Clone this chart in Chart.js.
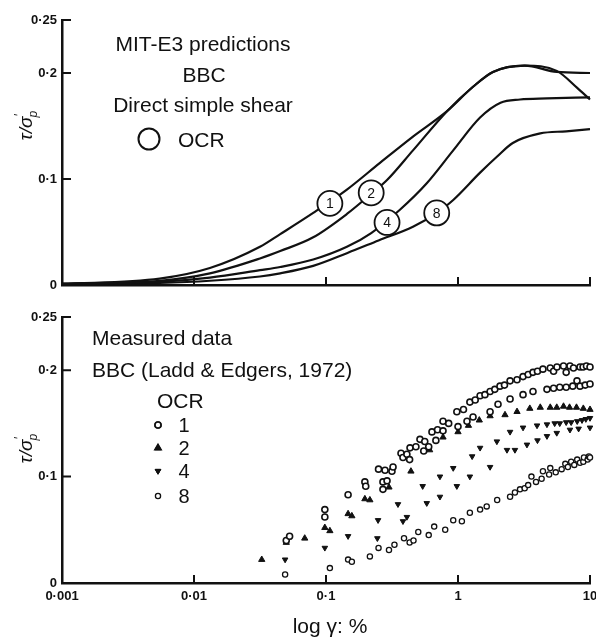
<!DOCTYPE html>
<html>
<head>
<meta charset="utf-8">
<title>MIT-E3 predictions vs measured data - BBC direct simple shear</title>
<script src="https://cdn.jsdelivr.net/npm/chart.js@4.4.1/dist/chart.umd.min.js"></script>
<style>
body { margin: 0; background: #fff; }
#wrap { position: relative; width: 596px; height: 637px; }
canvas { position: absolute; left: 0; }
#topChart { top: 0; }
#bottomChart { top: 300px; }
</style>
</head>
<body>
<div id="wrap">
  <canvas id="topChart" width="596" height="300"></canvas>
  <canvas id="bottomChart" width="596" height="337"></canvas>
</div>

<script>
// axis ticks (shared log strain axis, stress ratio axis)
var xTicks = [0.001, 0.01, 0.1, 1, 10];
var xTickLabels = ['0·001', '0·01', '0·1', '1', '10'];
var yTicks = [0, 0.1, 0.2, 0.25];
var yTickLabels = ['0', '0·1', '0·2', '0·25'];

// MIT-E3 predicted curves, one per OCR
var curveNames = ['1', '2', '4', '8'];
var curve1X = [0.001, 0.0055, 0.0132, 0.0316, 0.045, 0.08, 0.144, 0.255, 0.456, 0.826, 1.3, 1.84, 3.2, 5.6, 8.0, 10];
var curve1Y = [0.001, 0.006, 0.016, 0.036, 0.048, 0.068, 0.090, 0.115, 0.140, 0.164, 0.187, 0.201, 0.207, 0.202, 0.186, 0.175];
var curve2X = [0.001, 0.0055, 0.0132, 0.0316, 0.045, 0.08, 0.144, 0.22, 0.29, 0.456, 0.826, 1.3, 1.84, 3.2, 5.6, 10];
var curve2Y = [0.001, 0.004, 0.011, 0.025, 0.032, 0.045, 0.067, 0.086, 0.099, 0.127, 0.164, 0.187, 0.201, 0.207, 0.201, 0.200];
var curve4X = [0.001, 0.0055, 0.0132, 0.0316, 0.045, 0.08, 0.144, 0.22, 0.363, 0.58, 0.92, 1.47, 2.1, 2.95, 4.7, 10];
var curve4Y = [0.001, 0.003, 0.007, 0.014, 0.017, 0.024, 0.036, 0.049, 0.071, 0.096, 0.127, 0.158, 0.172, 0.175, 0.176, 0.177];
var curve8X = [0.001, 0.0055, 0.0132, 0.0316, 0.045, 0.08, 0.144, 0.25, 0.456, 0.693, 0.916, 1.47, 1.97, 2.6, 4.2, 6.6, 10];
var curve8Y = [0.001, 0.002, 0.004, 0.008, 0.011, 0.018, 0.030, 0.042, 0.055, 0.068, 0.080, 0.106, 0.121, 0.134, 0.143, 0.145, 0.147];
// where the circled OCR numbers sit on the curves
var curveLabelX = [0.107, 0.22, 0.29, 0.69];
var curveLabelY = [0.077, 0.087, 0.059, 0.068];

// measured data, Ladd & Edgers 1972
var ocr1X = [0.05, 0.053, 0.098, 0.098, 0.147, 0.197, 0.2, 0.25, 0.28, 0.316, 0.322, 0.37, 0.383, 0.41, 0.433, 0.48, 0.515, 0.56, 0.635, 0.70, 0.77, 0.85, 0.98, 1.1, 1.23, 1.35, 1.47, 1.6, 1.75, 1.9, 2.08, 2.25, 2.48, 2.8, 3.11, 3.4, 3.7, 4.0, 4.4, 5.0, 5.3, 5.62, 6.3, 6.6, 7.05, 7.5, 7.97, 8.4, 8.86, 9.4, 10,
             0.27, 0.27, 0.29, 0.43, 0.55, 0.6, 0.68, 0.77, 1.0, 1.17, 1.3, 1.75, 2.01, 2.48, 3.11, 3.7, 4.72, 5.3, 5.9, 6.6, 7.4, 8.4, 9.2, 10];
var ocr1Y = [0.040, 0.044, 0.069, 0.062, 0.083, 0.095, 0.091, 0.107, 0.106, 0.105, 0.109, 0.122, 0.118, 0.121, 0.127, 0.128, 0.135, 0.133, 0.142, 0.144, 0.152, 0.150, 0.161, 0.163, 0.170, 0.172, 0.176, 0.177, 0.180, 0.182, 0.185, 0.186, 0.190, 0.191, 0.194, 0.196, 0.198, 0.199, 0.201, 0.202, 0.199, 0.203, 0.204, 0.198, 0.204, 0.202, 0.190, 0.203, 0.203, 0.204, 0.203,
             0.088, 0.095, 0.096, 0.116, 0.124, 0.128, 0.134, 0.143, 0.147, 0.152, 0.156, 0.161, 0.168, 0.173, 0.177, 0.180, 0.182, 0.183, 0.184, 0.184, 0.185, 0.185, 0.186, 0.187];
var ocr2X = [0.0326, 0.05, 0.052, 0.069, 0.098, 0.107, 0.147, 0.157, 0.197, 0.215, 0.30, 0.44, 0.61, 0.77, 1.0, 1.2, 1.45, 1.75, 2.27, 2.8, 3.5, 4.2, 5.0, 5.6, 6.3, 7.0, 7.9, 8.9, 10];
var ocr2Y = [0.022, 0.038, 0.043, 0.042, 0.052, 0.049, 0.065, 0.063, 0.079, 0.078, 0.090, 0.105, 0.125, 0.137, 0.142, 0.148, 0.153, 0.157, 0.158, 0.161, 0.164, 0.165, 0.165, 0.165, 0.166, 0.165, 0.165, 0.164, 0.163];
var ocr4X = [0.098, 0.147, 0.245, 0.248, 0.351, 0.54, 0.73, 0.92, 1.28, 1.47, 1.97, 2.48, 3.11, 3.97, 4.72, 5.4, 5.9, 6.6, 7.2, 8.0, 8.7, 9.3, 10,
             0.049, 0.383, 0.41, 0.58, 0.73, 0.98, 1.23, 1.75, 2.35, 2.7, 3.33, 4.0, 4.72, 5.6, 7.05, 8.2, 10];
var ocr4Y = [0.033, 0.044, 0.042, 0.059, 0.074, 0.091, 0.100, 0.108, 0.119, 0.127, 0.133, 0.142, 0.146, 0.148, 0.149, 0.150, 0.150, 0.151, 0.151, 0.152, 0.153, 0.154, 0.155,
             0.022, 0.058, 0.062, 0.075, 0.081, 0.091, 0.100, 0.109, 0.125, 0.125, 0.130, 0.134, 0.138, 0.141, 0.144, 0.145, 0.146];
var ocr8X = [0.049, 0.107, 0.147, 0.157, 0.215, 0.25, 0.30, 0.33, 0.39, 0.43, 0.46, 0.5, 0.6, 0.66, 0.80, 0.92, 1.07, 1.23, 1.47, 1.65, 1.98, 2.48, 2.7, 2.95, 3.2, 3.4, 3.6, 3.9, 4.3, 4.4, 4.9, 5.0, 5.5, 6.1, 6.5, 6.8, 7.2, 7.6, 8.0, 8.4, 8.9, 9.0, 9.6, 9.8, 10];
var ocr8Y = [0.008, 0.014, 0.022, 0.020, 0.025, 0.033, 0.031, 0.036, 0.042, 0.038, 0.040, 0.048, 0.045, 0.053, 0.050, 0.059, 0.058, 0.066, 0.069, 0.072, 0.078, 0.081, 0.085, 0.088, 0.089, 0.092, 0.100, 0.095, 0.098, 0.105, 0.102, 0.108, 0.104, 0.107, 0.112, 0.109, 0.114, 0.111, 0.116, 0.113, 0.114, 0.118, 0.116, 0.119, 0.118];

var FONT = 'Liberation Sans, Arial, sans-serif';
Chart.defaults.font.family = FONT;
Chart.defaults.color = '#111';

function pts(xs, ys) {
  return xs.map(function(x, i) { return {x: x, y: ys[i]}; });
}

function makeScales(showXLabels, xHeight) {
  return {
    x: {
      type: 'logarithmic', min: 0.001, max: 10,
      afterBuildTicks: function(s) { s.ticks = xTicks.map(function(v) { return {value: v}; }); },
      afterFit: function(s) {
        s.height = xHeight;
        // keep the "10" label from shrinking the plot
        s.paddingLeft = 0;
        s.paddingRight = 0;
      },
      grid: {display: false, drawTicks: false},
      border: {color: '#111', width: 2.5},
      ticks: {
        display: showXLabels, autoSkip: false, maxRotation: 0, padding: 6,
        font: {size: 13, weight: 'bold'},
        callback: function(v, i) { return xTickLabels[i]; }
      }
    },
    y: {
      min: 0, max: 0.25,
      afterBuildTicks: function(s) { s.ticks = yTicks.map(function(v) { return {value: v}; }); },
      afterFit: function(s) { s.width = 62; },
      grid: {display: false, drawTicks: false},
      border: {color: '#111', width: 2.5},
      ticks: {
        padding: 5, font: {size: 13, weight: 'bold'},
        callback: function(v, i) { return yTickLabels[i]; }
      }
    }
  };
}

// tick marks drawn inside the frame like the original figure
var innerTicks = {
  id: 'innerTicks',
  afterDraw: function(chart) {
    var ctx = chart.ctx, a = chart.chartArea, sx = chart.scales.x, sy = chart.scales.y;
    ctx.save();
    ctx.strokeStyle = '#111';
    ctx.lineWidth = 2;
    ctx.beginPath();
    xTicks.slice(1).forEach(function(v) {
      var px = sx.getPixelForValue(v);
      ctx.moveTo(px, a.bottom); ctx.lineTo(px, a.bottom - 8);
    });
    yTicks.slice(1).forEach(function(v) {
      var py = sy.getPixelForValue(v);
      ctx.moveTo(a.left, py); ctx.lineTo(a.left + 9, py);
    });
    ctx.stroke();
    ctx.restore();
  }
};

function drawYTitle(ctx, cx, cy) {
  ctx.save();
  ctx.translate(cx, cy);
  ctx.rotate(-Math.PI / 2);
  ctx.fillStyle = '#111';
  ctx.textBaseline = 'middle';
  ctx.font = 'italic 19px ' + FONT;
  var main = 'τ/σ';
  var w = ctx.measureText(main).width;
  var x0 = -(w + 7) / 2;
  ctx.textAlign = 'left';
  ctx.fillText(main, x0, 0);
  ctx.font = 'italic 12px ' + FONT;
  ctx.fillText('′', x0 + w, -7);
  ctx.fillText('p', x0 + w - 1, 7);
  ctx.restore();
}

var topNotes = {
  id: 'topNotes',
  afterDraw: function(chart) {
    var ctx = chart.ctx, sx = chart.scales.x, sy = chart.scales.y;
    ctx.save();
    ctx.fillStyle = '#111';
    ctx.strokeStyle = '#111';
    ctx.font = '21px ' + FONT;
    ctx.textAlign = 'center';
    ctx.textBaseline = 'alphabetic';
    ctx.fillText('MIT-E3 predictions', 203, 51);
    ctx.fillText('BBC', 204, 82);
    ctx.fillText('Direct simple shear', 203, 112);
    ctx.textAlign = 'left';
    ctx.fillText('OCR', 178, 147);
    ctx.lineWidth = 2;
    ctx.beginPath();
    ctx.arc(149, 139, 10.5, 0, Math.PI * 2);
    ctx.stroke();

    // circled OCR labels on the curves
    ctx.font = '14px ' + FONT;
    ctx.textAlign = 'center';
    ctx.textBaseline = 'middle';
    ctx.lineWidth = 1.8;
    curveNames.forEach(function(n, i) {
      var px = sx.getPixelForValue(curveLabelX[i]);
      var py = sy.getPixelForValue(curveLabelY[i]);
      ctx.beginPath();
      ctx.arc(px, py, 12.5, 0, Math.PI * 2);
      ctx.fillStyle = '#fff';
      ctx.fill();
      ctx.stroke();
      ctx.fillStyle = '#111';
      ctx.fillText(n, px, py + 1);
    });
    drawYTitle(ctx, 27, 125);
    ctx.restore();
  }
};

var ocrStyles = [
  {pointStyle: 'circle', radius: 3, borderWidth: 1.6, bg: '#fff', rotation: 0},
  {pointStyle: 'triangle', radius: 3.6, borderWidth: 1, bg: '#111', rotation: 0},
  {pointStyle: 'triangle', radius: 3.2, borderWidth: 1, bg: '#111', rotation: 180},
  {pointStyle: 'circle', radius: 2.6, borderWidth: 1.3, bg: '#fff', rotation: 0}
];

var bottomNotes = {
  id: 'bottomNotes',
  afterDraw: function(chart) {
    var ctx = chart.ctx;
    ctx.save();
    ctx.fillStyle = '#111';
    ctx.font = '21px ' + FONT;
    ctx.textAlign = 'left';
    ctx.textBaseline = 'alphabetic';
    ctx.fillText('Measured data', 92, 45);
    ctx.fillText('BBC (Ladd & Edgers, 1972)', 92, 77);
    ctx.fillText('OCR', 157, 108);
    ctx.font = '20px ' + FONT;
    ctx.textAlign = 'center';
    var rows = [125, 148, 171, 196];
    curveNames.forEach(function(n, i) {
      var st = ocrStyles[i];
      ctx.fillStyle = '#111';
      ctx.textBaseline = 'middle';
      ctx.fillText(n, 184, rows[i] + 1);
      Chart.helpers.drawPoint(ctx, {
        pointStyle: st.pointStyle, radius: st.radius, borderWidth: st.borderWidth, rotation: st.rotation
      }, 158, rows[i]);
      ctx.fillStyle = st.bg;
      ctx.strokeStyle = '#111';
      ctx.lineWidth = st.borderWidth;
      ctx.fill();
      ctx.stroke();
    });
    ctx.fillStyle = '#111';
    ctx.font = '21px ' + FONT;
    ctx.textBaseline = 'middle';
    ctx.fillText('log γ: %', 330, 327);
    drawYTitle(ctx, 27, 148);
    ctx.restore();
  }
};

function lineSet(xs, ys) {
  return {
    data: pts(xs, ys), borderColor: '#111', borderWidth: 2.2, pointRadius: 0,
    cubicInterpolationMode: 'monotone', fill: false, clip: false
  };
}

new Chart(document.getElementById('topChart'), {
  type: 'line',
  data: {
    datasets: [
      lineSet(curve1X, curve1Y),
      lineSet(curve2X, curve2Y),
      lineSet(curve4X, curve4Y),
      lineSet(curve8X, curve8Y)
    ]
  },
  options: {
    responsive: false, animation: false,
    layout: {padding: {left: 0, right: 6, top: 20, bottom: 0}},
    plugins: {legend: {display: false}, tooltip: {enabled: false}},
    scales: makeScales(false, 15)
  },
  plugins: [innerTicks, topNotes]
});

var measured = [[ocr1X, ocr1Y], [ocr2X, ocr2Y], [ocr4X, ocr4Y], [ocr8X, ocr8Y]];

new Chart(document.getElementById('bottomChart'), {
  type: 'scatter',
  data: {
    datasets: measured.map(function(m, i) {
      var st = ocrStyles[i];
      return {
        label: 'OCR ' + curveNames[i],
        data: pts(m[0], m[1]),
        pointStyle: st.pointStyle, pointRadius: st.radius, pointRotation: st.rotation,
        pointBorderWidth: st.borderWidth, pointBorderColor: '#111', pointBackgroundColor: st.bg,
        clip: false
      };
    })
  },
  options: {
    responsive: false, animation: false,
    layout: {padding: {left: 0, right: 6, top: 17, bottom: 0}},
    plugins: {legend: {display: false}, tooltip: {enabled: false}},
    scales: makeScales(true, 54)
  },
  plugins: [innerTicks, bottomNotes]
});
</script>
</body>
</html>
